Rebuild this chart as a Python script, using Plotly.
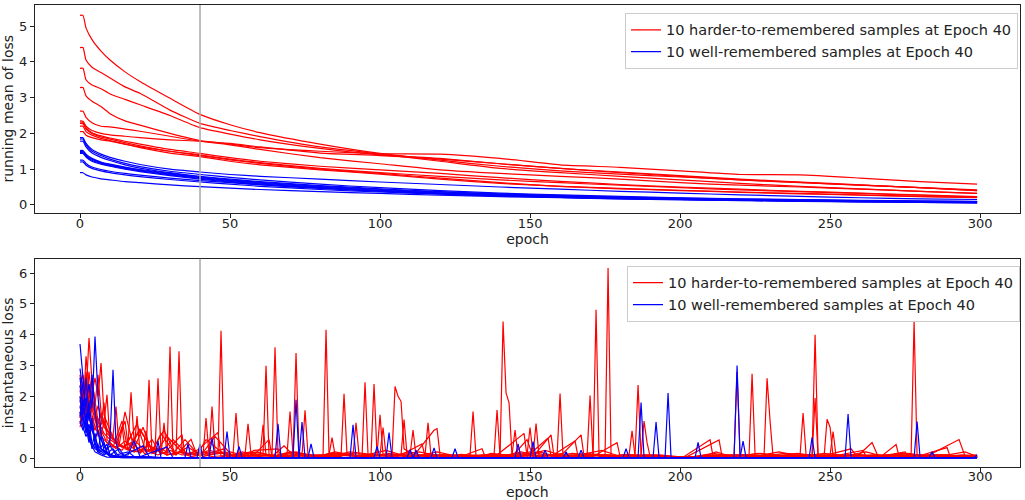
import plotly.graph_objects as go

# ---------------- data: running mean of loss (top panel) ----------------
TOP_EPOCHS = [0, 1, 2, 4, 7, 10, 15, 20, 30, 40, 50, 60, 80, 100, 120, 140, 160, 180, 200, 220, 240, 260, 280, 299]

RED_RUN_1 = [5.30, 5.30, 4.95, 4.62, 4.30, 4.05, 3.72, 3.45, 2.98, 2.53, 2.24, 2.02, 1.70, 1.44, 1.25, 1.08, 0.95, 0.86, 0.78, 0.70, 0.63, 0.55, 0.48, 0.40]
RED_RUN_2 = [4.40, 4.40, 4.05, 3.85, 3.70, 3.55, 3.30, 3.12, 2.65, 2.28, 2.08, 1.91, 1.62, 1.42, 1.22, 1.02, 0.90, 0.80, 0.70, 0.60, 0.52, 0.45, 0.38, 0.32]
RED_RUN_3 = [3.82, 3.82, 3.50, 3.35, 3.25, 3.10, 2.95, 2.80, 2.50, 2.16, 1.98, 1.82, 1.58, 1.40, 1.30, 1.15, 1.02, 0.90, 0.80, 0.70, 0.62, 0.55, 0.48, 0.40]
RED_RUN_4 = [3.28, 3.28, 3.05, 2.90, 2.75, 2.55, 2.35, 2.23, 2.00, 1.80, 1.70, 1.60, 1.50, 1.43, 1.42, 1.30, 1.12, 1.05, 0.95, 0.85, 0.84, 0.75, 0.65, 0.58]
RED_RUN_5 = [2.62, 2.62, 2.45, 2.30, 2.20, 2.18, 2.12, 2.06, 1.92, 1.78, 1.68, 1.55, 1.32, 1.15, 0.98, 0.88, 0.80, 0.72, 0.62, 0.55, 0.50, 0.44, 0.38, 0.32]
RED_RUN_6 = [2.35, 2.34, 2.20, 2.08, 2.00, 1.96, 1.92, 1.88, 1.82, 1.78, 1.72, 1.62, 1.45, 1.38, 1.28, 1.15, 1.02, 0.92, 0.82, 0.72, 0.64, 0.56, 0.48, 0.42]
RED_RUN_7 = [2.32, 2.30, 2.15, 2.02, 1.93, 1.87, 1.78, 1.70, 1.55, 1.44, 1.32, 1.22, 1.08, 0.98, 0.88, 0.76, 0.66, 0.57, 0.50, 0.44, 0.38, 0.33, 0.28, 0.23]
RED_RUN_8 = [2.28, 2.27, 2.12, 2.00, 1.90, 1.84, 1.74, 1.65, 1.50, 1.40, 1.28, 1.18, 1.02, 0.90, 0.80, 0.70, 0.62, 0.55, 0.48, 0.42, 0.37, 0.32, 0.27, 0.22]
RED_RUN_9 = [2.05, 2.05, 1.95, 1.88, 1.82, 1.78, 1.70, 1.62, 1.50, 1.38, 1.26, 1.16, 1.00, 0.88, 0.75, 0.62, 0.52, 0.45, 0.40, 0.35, 0.31, 0.27, 0.23, 0.20]
RED_RUN_10 = [2.20, 2.20, 2.05, 1.95, 1.86, 1.80, 1.70, 1.60, 1.45, 1.35, 1.22, 1.12, 0.98, 0.86, 0.72, 0.60, 0.52, 0.46, 0.41, 0.36, 0.32, 0.28, 0.24, 0.21]

BLUE_RUN_1 = [1.88, 1.88, 1.72, 1.55, 1.42, 1.33, 1.22, 1.13, 1.00, 0.92, 0.85, 0.80, 0.72, 0.64, 0.57, 0.50, 0.44, 0.38, 0.33, 0.28, 0.24, 0.20, 0.17, 0.15]
BLUE_RUN_2 = [1.84, 1.84, 1.68, 1.50, 1.38, 1.28, 1.16, 1.07, 0.94, 0.85, 0.77, 0.70, 0.58, 0.48, 0.40, 0.33, 0.28, 0.24, 0.20, 0.17, 0.15, 0.13, 0.11, 0.10]
BLUE_RUN_3 = [1.78, 1.78, 1.62, 1.45, 1.33, 1.24, 1.12, 1.03, 0.90, 0.80, 0.72, 0.65, 0.54, 0.45, 0.37, 0.31, 0.26, 0.22, 0.19, 0.16, 0.14, 0.12, 0.10, 0.09]
BLUE_RUN_4 = [1.52, 1.52, 1.42, 1.30, 1.20, 1.14, 1.06, 0.99, 0.88, 0.78, 0.70, 0.63, 0.52, 0.43, 0.36, 0.30, 0.25, 0.21, 0.18, 0.15, 0.13, 0.11, 0.09, 0.08]
BLUE_RUN_5 = [1.49, 1.49, 1.39, 1.28, 1.18, 1.12, 1.04, 0.97, 0.86, 0.76, 0.68, 0.61, 0.50, 0.41, 0.34, 0.28, 0.23, 0.19, 0.16, 0.14, 0.12, 0.10, 0.08, 0.07]
BLUE_RUN_6 = [1.46, 1.46, 1.36, 1.25, 1.16, 1.10, 1.02, 0.95, 0.84, 0.74, 0.66, 0.59, 0.48, 0.39, 0.32, 0.26, 0.22, 0.18, 0.15, 0.13, 0.11, 0.09, 0.07, 0.06]
BLUE_RUN_7 = [1.44, 1.44, 1.34, 1.22, 1.14, 1.08, 1.00, 0.93, 0.82, 0.72, 0.64, 0.57, 0.46, 0.38, 0.31, 0.25, 0.21, 0.17, 0.14, 0.12, 0.10, 0.08, 0.07, 0.05]
BLUE_RUN_8 = [1.25, 1.25, 1.16, 1.06, 0.99, 0.94, 0.88, 0.83, 0.75, 0.68, 0.62, 0.56, 0.47, 0.40, 0.33, 0.28, 0.24, 0.20, 0.17, 0.15, 0.13, 0.11, 0.10, 0.09]
BLUE_RUN_9 = [1.20, 1.20, 1.11, 1.02, 0.95, 0.90, 0.84, 0.79, 0.71, 0.64, 0.58, 0.52, 0.43, 0.36, 0.30, 0.25, 0.21, 0.18, 0.15, 0.13, 0.11, 0.10, 0.09, 0.08]
BLUE_RUN_10 = [0.90, 0.90, 0.84, 0.78, 0.73, 0.70, 0.65, 0.62, 0.56, 0.51, 0.47, 0.43, 0.37, 0.32, 0.27, 0.23, 0.20, 0.17, 0.15, 0.13, 0.11, 0.10, 0.09, 0.08]

RED_RUNNING = [RED_RUN_1, RED_RUN_2, RED_RUN_3, RED_RUN_4, RED_RUN_5,
               RED_RUN_6, RED_RUN_7, RED_RUN_8, RED_RUN_9, RED_RUN_10]
BLUE_RUNNING = [BLUE_RUN_1, BLUE_RUN_2, BLUE_RUN_3, BLUE_RUN_4, BLUE_RUN_5,
                BLUE_RUN_6, BLUE_RUN_7, BLUE_RUN_8, BLUE_RUN_9, BLUE_RUN_10]

# ---------------- data: instantaneous loss (bottom panel), (epoch, loss) ----------------
RED_INST_1 = [(0,1.00),(1,1.40),(2,3.30),(3,2.20),(4,1.60),(5,1.20),(6,0.90),(7,0.70),(9,0.50),(11,0.35),(14,1.20),(16,0.25),(20,0.90),(25,0.15),(29,0.70),(35,0.10),(38,0.20),(46,0.15),(47,4.13),(48,0.10),(55,0.05),(58,0.25),(66,0.30),(67,0.05),(80,0.10),(81,0.05),(82,4.16),(83,0.10),(86,0.05),(90,0.15),(104,0.05),(113,0.20),(122,0.03),(127,0.12),(135,0.03),(140,0.05),(141,4.43),(142,2.11),(143,1.79),(144,0.05),(150,0.20),(158,0.05),(164,0.15),(175,0.05),(176,6.16),(177,0.05),(182,0.12),(195,0.03),(205,0.03),(215,0.10),(226,0.05),(235,0.15),(252,0.05),(266,0.10),(277,0.05),(278,4.46),(279,0.05),(287,0.10),(299,0.05)]
RED_INST_2 = [(0,2.30),(1,2.70),(2,2.00),(3,3.89),(4,2.50),(5,1.80),(6,1.20),(8,0.80),(10,0.60),(13,0.40),(15,1.50),(18,0.30),(21,1.00),(24,0.20),(27,0.80),(32,0.10),(37,0.61),(39,0.10),(43,0.25),(50,0.10),(59,0.08),(64,0.10),(65,3.59),(66,0.10),(71,0.20),(78,0.05),(87,0.15),(94,0.05),(104,0.10),(105,2.32),(106,2.00),(107,1.84),(108,0.30),(112,0.05),(119,0.20),(126,0.05),(133,0.03),(137,0.15),(147,0.05),(155,0.25),(162,0.05),(168,0.10),(171,0.05),(172,4.81),(173,0.05),(181,0.10),(190,0.05),(199,0.03),(208,0.05),(212,0.20),(217,0.05),(227,0.15),(237,0.05),(244,0.10),(245,4.00),(246,0.10),(254,0.05),(262,0.20),(268,0.05),(276,0.15),(285,0.03),(294,0.10),(299,0.08)]
RED_INST_3 = [(0,2.70),(1,1.90),(2,2.40),(3,1.70),(4,2.10),(5,2.60),(6,2.00),(7,3.08),(8,1.40),(10,0.90),(12,0.50),(15,0.35),(19,1.10),(22,0.20),(26,0.30),(29,0.10),(30,3.62),(31,0.15),(35,0.60),(40,0.05),(45,0.70),(51,0.05),(57,0.15),(64,0.05),(68,0.40),(71,0.10),(72,3.41),(73,0.10),(79,0.05),(85,0.20),(93,0.05),(102,0.25),(109,0.05),(117,0.10),(124,0.03),(130,0.05),(138,0.10),(146,0.05),(153,0.20),(159,0.05),(160,2.09),(161,0.05),(169,0.15),(178,0.05),(185,0.10),(192,0.03),(203,0.03),(209,0.10),(216,0.05),(218,0.10),(219,2.79),(220,0.10),(225,0.05),(233,0.20),(240,0.05),(248,0.15),(258,0.05),(265,0.10),(271,0.05),(280,0.10),(290,0.05),(299,0.05)]
RED_INST_4 = [(0,1.30),(1,2.50),(2,1.60),(3,2.80),(4,1.90),(5,1.40),(6,1.00),(8,1.20),(10,0.70),(13,0.45),(16,0.30),(20,0.95),(24,0.25),(28,0.90),(32,0.10),(33,3.46),(34,0.20),(39,0.10),(42,0.60),(49,0.05),(54,0.20),(60,0.05),(61,0.10),(62,2.99),(63,0.10),(69,0.05),(77,0.10),(85,0.05),(91,0.10),(94,0.05),(95,2.46),(96,0.10),(103,0.05),(110,0.20),(115,0.05),(121,0.10),(128,0.03),(136,0.10),(144,0.05),(149,0.60),(151,0.05),(157,0.75),(158,0.05),(166,0.10),(174,0.25),(180,0.05),(185,0.10),(186,2.37),(187,0.10),(194,0.05),(204,0.03),(211,0.15),(218,0.05),(223,0.10),(224,2.73),(225,0.10),(232,0.05),(239,0.15),(247,0.05),(257,0.30),(259,0.05),(264,0.50),(266,0.05),(274,0.15),(282,0.05),(293,0.60),(295,0.05),(299,0.05)]
RED_INST_5 = [(0,1.80),(1,2.20),(2,1.50),(3,1.90),(4,2.60),(5,1.70),(6,2.70),(7,1.50),(9,0.80),(11,0.60),(14,0.35),(17,0.50),(21,0.20),(22,0.10),(23,2.54),(24,0.15),(27,0.30),(31,0.10),(36,0.35),(41,0.05),(47,0.20),(53,0.05),(58,0.10),(63,0.60),(64,0.05),(70,0.20),(76,0.05),(81,0.10),(87,0.05),(88,2.08),(89,0.10),(93,0.05),(97,0.10),(98,2.40),(99,0.10),(106,0.05),(114,0.46),(115,0.05),(123,0.10),(129,0.05),(130,0.10),(131,1.51),(132,0.05),(139,0.10),(148,0.80),(149,0.05),(156,0.65),(157,0.05),(165,0.55),(166,0.05),(176,0.10),(183,0.05),(193,0.10),(201,0.03),(210,0.59),(211,0.05),(220,0.10),(227,0.05),(228,0.10),(229,2.59),(230,1.20),(231,0.05),(238,0.10),(246,0.05),(255,0.10),(263,0.05),(270,0.10),(279,0.05),(289,0.34),(290,0.05),(299,0.05)]
RED_INST_6 = [(0,2.00),(1,1.50),(2,2.30),(3,1.40),(4,1.90),(5,1.30),(6,1.70),(8,1.00),(10,0.80),(12,0.50),(15,1.20),(16,0.40),(17,2.13),(18,0.60),(21,0.30),(25,0.20),(26,2.59),(27,0.20),(31,0.60),(36,0.10),(41,0.20),(43,0.10),(44,1.67),(45,0.20),(51,0.10),(57,0.20),(67,0.05),(74,0.15),(80,0.05),(89,0.10),(96,0.05),(103,0.15),(111,0.05),(118,0.90),(119,0.95),(120,0.10),(127,0.05),(134,0.30),(135,0.05),(138,0.10),(139,1.56),(140,0.05),(147,0.20),(154,0.05),(163,0.10),(169,0.05),(170,2.03),(171,0.05),(179,0.50),(180,0.05),(191,0.05),(202,0.03),(213,0.59),(214,0.05),(221,0.10),(231,0.05),(236,0.10),(244,0.05),(245,1.95),(246,0.05),(253,0.10),(261,0.25),(262,0.05),(269,0.10),(275,0.20),(276,0.05),(286,0.10),(296,0.05),(299,0.05)]
RED_INST_7 = [(0,1.60),(1,2.00),(2,1.20),(3,1.70),(4,1.10),(5,0.90),(6,1.30),(7,0.70),(8,1.20),(9,2.05),(10,0.50),(12,0.30),(15,0.55),(19,0.20),(23,0.40),(28,0.15),(34,0.76),(35,0.10),(39,0.25),(46,0.83),(47,0.05),(51,0.10),(52,1.46),(53,0.10),(59,0.20),(65,0.05),(69,0.10),(70,1.51),(71,0.10),(74,0.10),(75,1.55),(76,0.10),(83,0.05),(90,0.20),(99,0.10),(100,1.40),(101,0.10),(108,0.05),(116,0.10),(122,0.05),(130,0.10),(137,0.05),(145,0.10),(152,0.05),(157,0.10),(163,0.05),(171,0.10),(179,0.05),(189,0.10),(198,0.03),(207,0.05),(214,0.10),(222,0.05),(230,0.10),(237,0.05),(240,0.10),(241,1.46),(242,0.10),(250,0.05),(258,0.10),(267,0.05),(272,0.44),(273,0.05),(283,0.10),(292,0.05),(299,0.10)]
RED_INST_8 = [(0,2.20),(1,1.60),(2,2.80),(3,1.80),(4,2.00),(5,1.50),(6,1.10),(7,1.40),(9,0.90),(11,0.70),(12,1.67),(13,0.40),(16,0.30),(18,0.20),(19,1.36),(20,0.20),(24,0.30),(29,0.10),(34,0.20),(38,0.10),(41,0.10),(42,1.30),(43,0.10),(50,0.20),(56,0.05),(62,0.10),(68,0.05),(73,0.15),(79,0.05),(86,0.10),(92,0.05),(102,0.10),(107,0.10),(108,1.25),(109,0.10),(115,0.10),(116,1.14),(117,0.05),(125,0.10),(132,0.05),(136,0.10),(142,0.05),(146,0.15),(153,0.05),(161,0.15),(167,0.75),(168,0.05),(175,0.10),(183,0.05),(187,0.10),(188,1.20),(189,0.50),(190,0.05),(197,0.03),(206,0.05),(212,0.10),(219,0.05),(226,0.15),(234,0.05),(243,0.10),(248,0.05),(249,1.26),(250,1.00),(251,0.05),(256,0.10),(263,0.05),(271,0.10),(278,0.05),(284,0.10),(291,0.05),(299,0.05)]
RED_INST_9 = [(0,1.10),(1,1.80),(2,1.30),(3,2.40),(4,1.40),(5,1.00),(6,0.80),(7,1.10),(8,1.80),(9,0.60),(11,0.40),(14,0.25),(17,0.70),(20,0.15),(24,0.60),(27,0.10),(28,1.14),(29,0.10),(33,0.20),(37,0.05),(43,0.15),(48,0.30),(49,0.05),(55,0.10),(56,1.11),(57,0.10),(60,0.10),(61,1.08),(62,0.10),(66,0.05),(72,0.20),(78,0.05),(84,0.15),(91,0.10),(92,1.14),(93,0.10),(97,0.05),(105,0.10),(112,0.05),(119,0.10),(126,0.05),(134,0.10),(141,0.05),(149,0.10),(150,0.99),(151,0.10),(152,1.12),(153,0.05),(159,0.10),(166,0.05),(174,0.10),(181,0.05),(191,0.10),(200,0.03),(209,0.05),(217,0.10),(225,0.05),(232,0.10),(239,0.05),(247,0.10),(254,0.05),(260,0.10),(268,0.05),(277,0.10),(286,0.05),(295,0.20),(299,0.05)]
RED_INST_10 = [(0,1.50),(1,1.20),(2,1.80),(3,1.30),(4,0.90),(5,1.50),(6,0.70),(7,0.90),(9,0.50),(12,0.35),(14,1.03),(15,0.30),(18,0.20),(21,0.30),(22,0.88),(23,0.20),(26,0.10),(30,0.25),(34,0.10),(39,0.15),(44,0.05),(52,0.10),(60,0.05),(68,0.10),(75,0.05),(83,0.10),(84,0.66),(85,0.10),(94,0.05),(100,0.10),(101,0.99),(102,0.10),(110,0.10),(111,0.91),(112,0.05),(120,0.10),(128,0.05),(137,0.10),(144,0.10),(145,0.91),(146,0.05),(154,0.10),(162,0.05),(170,0.10),(177,0.05),(183,0.10),(184,0.88),(185,0.05),(194,0.05),(203,0.03),(211,0.05),(220,0.10),(228,0.05),(236,0.10),(243,0.05),(250,0.10),(251,0.86),(252,0.05),(259,0.10),(267,0.05),(274,0.10),(281,0.05),(288,0.10),(297,0.05),(299,0.05)]

BLUE_INST_1 = [(0,3.70),(1,2.60),(2,1.50),(3,0.80),(4,0.40),(5,0.20),(7,0.10),(9,0.03),(15,0.01),(30,0.01),(71,0.01),(72,1.89),(73,0.01),(120,0.01),(180,0.01),(218,0.01),(219,3.00),(220,0.01),(260,0.01),(299,0.01)]
BLUE_INST_2 = [(0,2.90),(1,2.20),(2,1.80),(3,2.40),(4,1.60),(5,3.94),(6,2.00),(7,0.80),(8,0.50),(9,0.20),(10,0.05),(20,0.01),(60,0.01),(150,0.01),(195,0.01),(196,2.11),(197,0.01),(250,0.01),(299,0.01)]
BLUE_INST_3 = [(0,2.35),(1,1.60),(2,1.90),(3,1.20),(4,2.70),(5,1.50),(6,0.80),(7,0.60),(8,0.40),(9,0.30),(10,0.60),(11,2.86),(12,0.50),(13,0.20),(15,0.05),(30,0.01),(100,0.01),(186,0.01),(187,1.80),(188,0.01),(240,0.01),(299,0.01)]
BLUE_INST_4 = [(0,2.00),(1,1.40),(2,2.60),(3,1.40),(4,0.90),(5,0.60),(6,0.40),(8,0.20),(10,0.05),(14,0.01),(50,0.01),(90,0.01),(91,1.08),(92,0.01),(180,0.01),(255,0.01),(256,1.43),(257,0.01),(299,0.01)]
BLUE_INST_5 = [(0,1.70),(1,1.20),(2,0.90),(3,1.80),(4,1.00),(5,0.60),(6,0.90),(7,0.30),(9,0.15),(12,0.05),(20,0.01),(65,0.01),(66,1.11),(67,0.01),(140,0.01),(191,0.01),(192,1.17),(193,0.01),(278,0.01),(279,1.18),(280,0.01),(299,0.01)]
BLUE_INST_6 = [(0,1.35),(1,1.90),(2,1.10),(3,0.70),(4,1.30),(5,0.50),(6,0.30),(7,0.70),(8,0.25),(10,0.10),(13,0.30),(15,0.05),(30,0.01),(48,0.01),(49,0.86),(50,0.01),(73,0.01),(74,1.17),(75,0.01),(102,0.01),(103,0.83),(104,0.01),(160,0.01),(230,0.01),(299,0.01)]
BLUE_INST_7 = [(0,1.20),(1,0.90),(2,1.40),(3,0.60),(4,0.40),(5,0.80),(6,0.30),(8,0.15),(10,0.40),(12,0.10),(16,0.20),(18,0.05),(30,0.01),(43,0.01),(44,0.65),(45,0.01),(120,0.01),(150,0.01),(151,0.53),(152,0.01),(205,0.01),(206,0.51),(207,0.01),(243,0.01),(244,0.67),(245,0.01),(299,0.01)]
BLUE_INST_8 = [(0,2.60),(1,1.70),(2,1.00),(3,0.50),(4,1.20),(5,0.40),(6,0.20),(8,0.50),(9,0.15),(12,0.05),(16,0.10),(18,0.56),(20,0.05),(25,0.01),(39,0.01),(40,0.46),(41,0.01),(76,0.01),(77,0.46),(78,0.01),(145,0.01),(146,0.46),(147,0.01),(181,0.01),(182,0.30),(183,0.01),(220,0.01),(221,0.55),(222,0.01),(299,0.01)]
BLUE_INST_9 = [(0,1.90),(1,1.30),(2,0.80),(3,1.10),(4,0.50),(5,0.30),(7,0.20),(9,0.45),(10,0.10),(14,0.05),(21,0.40),(23,0.05),(25,0.01),(26,0.55),(27,0.01),(35,0.01),(36,0.47),(37,0.01),(52,0.01),(53,0.38),(54,0.01),(98,0.01),(99,0.38),(100,0.01),(154,0.01),(155,0.25),(156,0.01),(166,0.01),(167,0.25),(168,0.01),(299,0.01)]
BLUE_INST_10 = [(0,1.50),(1,1.00),(2,0.70),(3,0.90),(4,0.30),(5,0.50),(6,0.20),(8,0.10),(11,0.30),(13,0.05),(19,0.01),(29,0.36),(31,0.01),(109,0.01),(110,0.27),(111,0.01),(112,0.25),(113,0.01),(117,0.01),(118,0.33),(119,0.01),(124,0.01),(125,0.30),(126,0.01),(161,0.01),(162,0.20),(163,0.01),(283,0.01),(284,0.20),(285,0.01),(298,0.01),(299,0.10)]

RED_INSTANT = [RED_INST_1, RED_INST_2, RED_INST_3, RED_INST_4, RED_INST_5,
               RED_INST_6, RED_INST_7, RED_INST_8, RED_INST_9, RED_INST_10]
BLUE_INSTANT = [BLUE_INST_1, BLUE_INST_2, BLUE_INST_3, BLUE_INST_4, BLUE_INST_5,
                BLUE_INST_6, BLUE_INST_7, BLUE_INST_8, BLUE_INST_9, BLUE_INST_10]

RED_LABEL = "10 harder-to-remembered samples at Epoch 40"
BLUE_LABEL = "10 well-remembered samples at Epoch 40"
MARK_EPOCH = 40
X_TICKS = [0, 50, 100, 150, 200, 250, 300]

# ---------------- figure ----------------
FONT = "DejaVu Sans"
RED = "#ff0000"
BLUE = "#0000ff"
LW = 1.2

fig = go.Figure()

for i, vals in enumerate(RED_RUNNING):
    fig.add_trace(go.Scatter(x=TOP_EPOCHS, y=vals, mode="lines", name=RED_LABEL,
                             line=dict(color=RED, width=LW, shape="spline", smoothing=0.5),
                             xaxis="x", yaxis="y", legend="legend",
                             legendgroup="r1", showlegend=(i == 0), hoverinfo="skip"))
for i, vals in enumerate(BLUE_RUNNING):
    fig.add_trace(go.Scatter(x=TOP_EPOCHS, y=vals, mode="lines", name=BLUE_LABEL,
                             line=dict(color=BLUE, width=LW, shape="spline", smoothing=0.5),
                             xaxis="x", yaxis="y", legend="legend",
                             legendgroup="b1", showlegend=(i == 0), hoverinfo="skip"))

for i, pts in enumerate(RED_INSTANT):
    fig.add_trace(go.Scatter(x=[p[0] for p in pts], y=[p[1] for p in pts], mode="lines",
                             name=RED_LABEL, line=dict(color=RED, width=LW),
                             xaxis="x2", yaxis="y2", legend="legend2",
                             legendgroup="r2", showlegend=(i == 0), hoverinfo="skip"))
for i, pts in enumerate(BLUE_INSTANT):
    fig.add_trace(go.Scatter(x=[p[0] for p in pts], y=[p[1] for p in pts], mode="lines",
                             name=BLUE_LABEL, line=dict(color=BLUE, width=LW),
                             xaxis="x2", yaxis="y2", legend="legend2",
                             legendgroup="b2", showlegend=(i == 0), hoverinfo="skip"))

axis_common = dict(showline=True, mirror=True, linecolor="#222222", linewidth=1,
                   ticks="outside", ticklen=4, tickcolor="#222222", tickwidth=1,
                   showgrid=False, zeroline=False, automargin=False,
                   tickfont=dict(family=FONT, size=13, color="#222222"))

fig.update_layout(
    width=1025, height=500,
    margin=dict(l=35, r=5, t=5, b=33),
    paper_bgcolor="white", plot_bgcolor="white",
    font=dict(family=FONT, size=13, color="#222222"),
    xaxis=dict(domain=[0, 1], anchor="y", range=[-15, 313.3], tickvals=X_TICKS, ticklabelstandoff=-5,
               title=dict(text="epoch", standoff=0, font=dict(family=FONT, size=14)), **axis_common),
    yaxis=dict(domain=[0.5507, 1], anchor="x", range=[-0.215, 5.59], tickvals=[0, 1, 2, 3, 4, 5],
               title=dict(text="running mean of loss", standoff=4, font=dict(family=FONT, size=14)), **axis_common),
    xaxis2=dict(domain=[0, 1], anchor="y2", range=[-15, 313.3], tickvals=X_TICKS, ticklabelstandoff=-7,
                **axis_common),
    yaxis2=dict(domain=[0, 0.4506], anchor="x2", range=[-0.29, 6.46], tickvals=[0, 1, 2, 3, 4, 5, 6],
                title=dict(text="instantaneous loss", standoff=4, font=dict(family=FONT, size=14)), **axis_common),
    legend=dict(x=0.998, y=0.983, xanchor="right", yanchor="top",
                bgcolor="rgba(255,255,255,0.85)", bordercolor="#cccccc", borderwidth=1,
                font=dict(family=FONT, size=14.5, color="#222222"), tracegroupgap=0),
    legend2=dict(x=1.0, y=0.4355, xanchor="right", yanchor="top",
                 bgcolor="rgba(255,255,255,0.85)", bordercolor="#cccccc", borderwidth=1,
                 font=dict(family=FONT, size=14.5, color="#222222"), tracegroupgap=0),
    annotations=[
        dict(text="epoch", xref="paper", yref="paper", x=0.5, y=-0.0355,
             xanchor="center", yanchor="top", showarrow=False, borderpad=0,
             font=dict(family=FONT, size=14, color="#222222")),
    ],
    shapes=[
        dict(type="line", xref="x", yref="y domain", x0=MARK_EPOCH, x1=MARK_EPOCH, y0=0, y1=1,
             line=dict(color="#a8a8a8", width=1.5), layer="above"),
        dict(type="line", xref="x2", yref="y2 domain", x0=MARK_EPOCH, x1=MARK_EPOCH, y0=0, y1=1,
             line=dict(color="#a8a8a8", width=1.5), layer="above"),
    ],
)

fig.write_html("out.html")
